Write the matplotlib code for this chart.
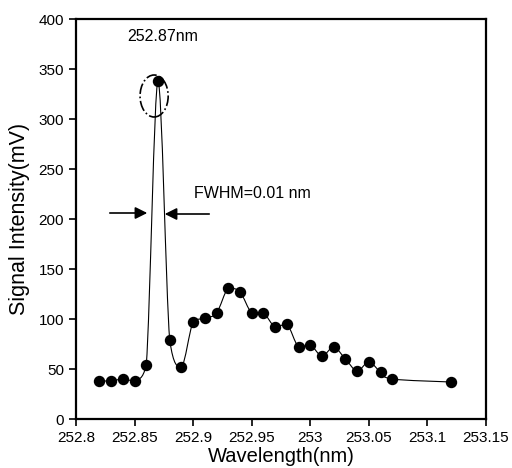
import numpy as np
import matplotlib.pyplot as plt
from matplotlib.path import Path
from matplotlib.patches import PathPatch, Ellipse

plt.rcParams['font.family'] = ['Liberation Sans', 'DejaVu Sans']

# Data
wavelength = [252.82, 252.83, 252.84, 252.85, 252.86, 252.87, 252.88, 252.89,
              252.90, 252.91, 252.92, 252.93, 252.94, 252.95, 252.96, 252.97,
              252.98, 252.99, 253.00, 253.01, 253.02, 253.03, 253.04, 253.05,
              253.06, 253.07, 253.12]
signal = [38, 38, 40, 38, 54, 338, 79, 52,
          97, 101, 106, 131, 127, 106, 106, 92,
          95, 72, 74, 63, 72, 60, 48, 57,
          47, 40, 37]

peak_label = '252.87nm'
fwhm_label = 'FWHM=0.01 nm'
xticks = [252.8, 252.85, 252.9, 252.95, 253, 253.05, 253.1, 253.15]
xtick_labels = ['252.8', '252.85', '252.9', '252.95', '253', '253.05', '253.1', '253.15']
yticks = [0, 50, 100, 150, 200, 250, 300, 350, 400]


def smooth_path(x, y, t=1/6):
    # smoothed line like Excel: Bezier segments, control points kept inside each segment's range
    x = np.asarray(x, float)
    y = np.asarray(y, float)
    n = len(x)
    verts = [(x[0], y[0])]
    codes = [Path.MOVETO]
    for i in range(n - 1):
        i0, i3 = max(i - 1, 0), min(i + 2, n - 1)
        lo, hi = min(y[i], y[i + 1]), max(y[i], y[i + 1])
        c1 = (x[i] + (x[i + 1] - x[i0]) * t, np.clip(y[i] + (y[i + 1] - y[i0]) * t, lo, hi))
        c2 = (x[i + 1] - (x[i3] - x[i]) * t, np.clip(y[i + 1] - (y[i3] - y[i]) * t, lo, hi))
        verts += [c1, c2, (x[i + 1], y[i + 1])]
        codes += [Path.CURVE4] * 3
    return Path(verts, codes)


fig = plt.figure(figsize=(5.12, 4.68), dpi=100)
ax = fig.add_axes([0.1484, 0.1047, 0.8008, 0.8547])

ax.add_patch(PathPatch(smooth_path(wavelength, signal), fill=False, color='black', lw=0.8))
ax.plot(wavelength, signal, 'o', color='black', markersize=7.2)

ax.add_patch(Ellipse((252.8667, 323), 0.024, 42, fill=False, ls='-.', lw=1.2, color='black'))
ax.text(252.874, 383, peak_label, ha='center', va='center', fontsize=11.5)

ax.annotate('', xy=(252.8632, 206), xytext=(252.8265, 206),
            arrowprops=dict(arrowstyle='-|>', color='black', lw=1.2, mutation_scale=18))
ax.annotate('', xy=(252.8734, 205), xytext=(252.9161, 205),
            arrowprops=dict(arrowstyle='-|>', color='black', lw=1.2, mutation_scale=18))
ax.text(252.9008, 226, fwhm_label, ha='left', va='center', fontsize=11.5)

ax.set_xlim(252.8, 253.15)
ax.set_ylim(0, 400)
ax.set_xticks(xticks)
ax.set_xticklabels(xtick_labels)
ax.set_yticks(yticks)
ax.tick_params(direction='out', length=5, width=1.2, labelsize=11)
for s in ax.spines.values():
    s.set_linewidth(1.6)

ax.set_xlabel('Wavelength(nm)', fontsize=14.5, labelpad=1.5)
ax.set_ylabel('Signal Intensity(mV)', fontsize=15.5, labelpad=6)

fig.savefig('out.png', dpi=100)
